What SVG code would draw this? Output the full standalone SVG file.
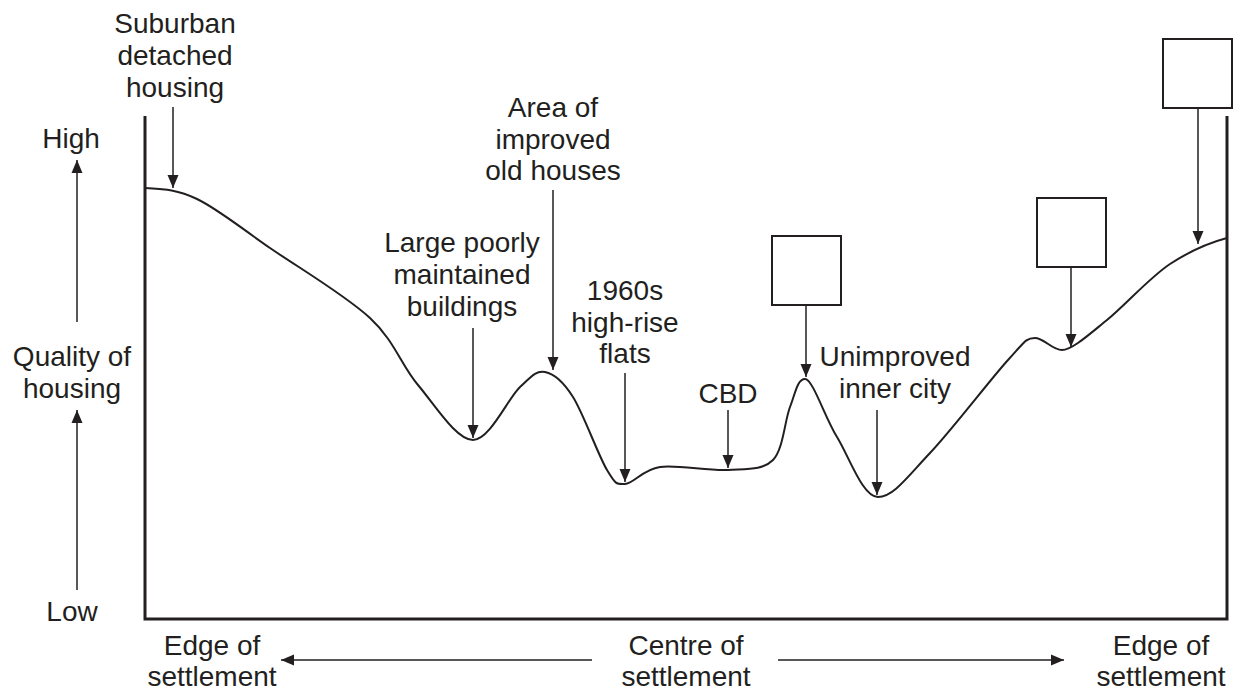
<svg xmlns="http://www.w3.org/2000/svg" width="1234" height="694" viewBox="0 0 1234 694">
<style>
text{font-family:"Liberation Sans",Arial,sans-serif;font-size:28px;fill:#231f20;text-anchor:middle}
.ax{fill:none;stroke:#231f20;stroke-width:3}
.crv{fill:none;stroke:#231f20;stroke-width:2}
.arr{fill:none;stroke:#231f20;stroke-width:1.5;marker-end:url(#ah)}
.box{fill:#fff;stroke:#231f20;stroke-width:2}
</style>
<defs>
<marker id="ah" markerUnits="userSpaceOnUse" markerWidth="14" markerHeight="14" viewBox="0 0 14 14" refX="13" refY="7" orient="auto">
<path d="M0,1.5 L13,7 L0,12.5 Z" fill="#231f20"/>
</marker>
</defs>
<rect width="1234" height="694" fill="#fff"/>
<g id="axes">
<path class="ax" d="M145,116 V619 H1227 V116"/>
</g>
<g id="curve">
<path class="crv" d="M145,188 C162,189 176.2,189 197,199 C217.8,209 241,228 270,248 C298.8,267.8 345.3,295.2 370,318 C394.7,340.8 400.8,364.7 418,385 C435.2,405.3 456.3,440 473,440 C489.7,440 508,398.3 520,387 C532,375.7 536.2,370.3 545,372 C553.8,373.7 562.7,380.7 573,397 C583.3,413.3 598.3,455.5 607,470 C615.7,484.5 616.2,484.5 625,484 C633.8,483.5 642.8,469.3 660,467 C677.2,464.7 709.2,471.2 728,470 C746.8,468.8 762.7,470.5 773,460 C783.3,449.5 784.7,420.5 790,407 C795.3,393.5 797.2,379 805,379 C812.8,379 824.8,417.3 837,437 C849.2,456.7 862.5,497 878,497 C893.5,497 908.3,475.8 930,453 C951.7,430.2 990.5,379.2 1008,360 C1025.5,340.8 1026,338 1035,338 C1044,338 1052,350 1062,350 C1072,350 1089,334.5 1107,320 C1125,305.5 1149,278 1170,264 C1190,251 1208,243 1227,238"/>
</g>
<g id="y-axis-label">
<text x="71" y="148">High</text>
<text x="72" y="366">Quality of</text>
<text x="72" y="398">housing</text>
<text x="72" y="621">Low</text>
</g>
<g id="x-axis-label">
<text x="212" y="655">Edge of</text>
<text x="212" y="686">settlement</text>
<text x="686" y="655">Centre of</text>
<text x="686" y="686">settlement</text>
<text x="1161" y="655">Edge of</text>
<text x="1161" y="686">settlement</text>
</g>
<g id="suburban">
<text x="175" y="33">Suburban</text>
<text x="175" y="65">detached</text>
<text x="175" y="97">housing</text>
</g>
<g id="large-poorly">
<text x="462" y="252">Large poorly</text>
<text x="462" y="284">maintained</text>
<text x="462" y="316">buildings</text>
</g>
<g id="area-improved">
<text x="553" y="117">Area of</text>
<text x="553" y="149">improved</text>
<text x="553" y="180">old houses</text>
</g>
<g id="flats">
<text x="625" y="300">1960s</text>
<text x="625" y="332">high-rise</text>
<text x="625" y="363">flats</text>
</g>
<g id="cbd">
<text x="728" y="403">CBD</text>
</g>
<g id="unimproved">
<text x="895" y="366">Unimproved</text>
<text x="895" y="398">inner city</text>
</g>
<g id="box-a"><rect class="box" x="772" y="236" width="69" height="69"/></g>
<g id="box-b"><rect class="box" x="1037" y="198" width="69" height="69"/></g>
<g id="box-c"><rect class="box" x="1163" y="39" width="69" height="69"/></g>
<g id="connectors">
<line class="arr" x1="77" y1="322" x2="77" y2="160"/>
<line class="arr" x1="77" y1="590" x2="77" y2="410"/>
<line class="arr" x1="592" y1="660" x2="281" y2="660"/>
<line class="arr" x1="778" y1="660" x2="1064" y2="660"/>
<line class="arr" x1="173" y1="107" x2="173" y2="188"/>
<line class="arr" x1="473" y1="328" x2="473" y2="438"/>
<line class="arr" x1="553" y1="190" x2="553" y2="370"/>
<line class="arr" x1="625" y1="373" x2="625" y2="482"/>
<line class="arr" x1="728" y1="410" x2="728" y2="468"/>
<line class="arr" x1="806" y1="305" x2="806" y2="377"/>
<line class="arr" x1="877" y1="410" x2="877" y2="495"/>
<line class="arr" x1="1071" y1="267" x2="1071" y2="347"/>
<line class="arr" x1="1198" y1="108" x2="1198" y2="244"/>
</g>
</svg>
